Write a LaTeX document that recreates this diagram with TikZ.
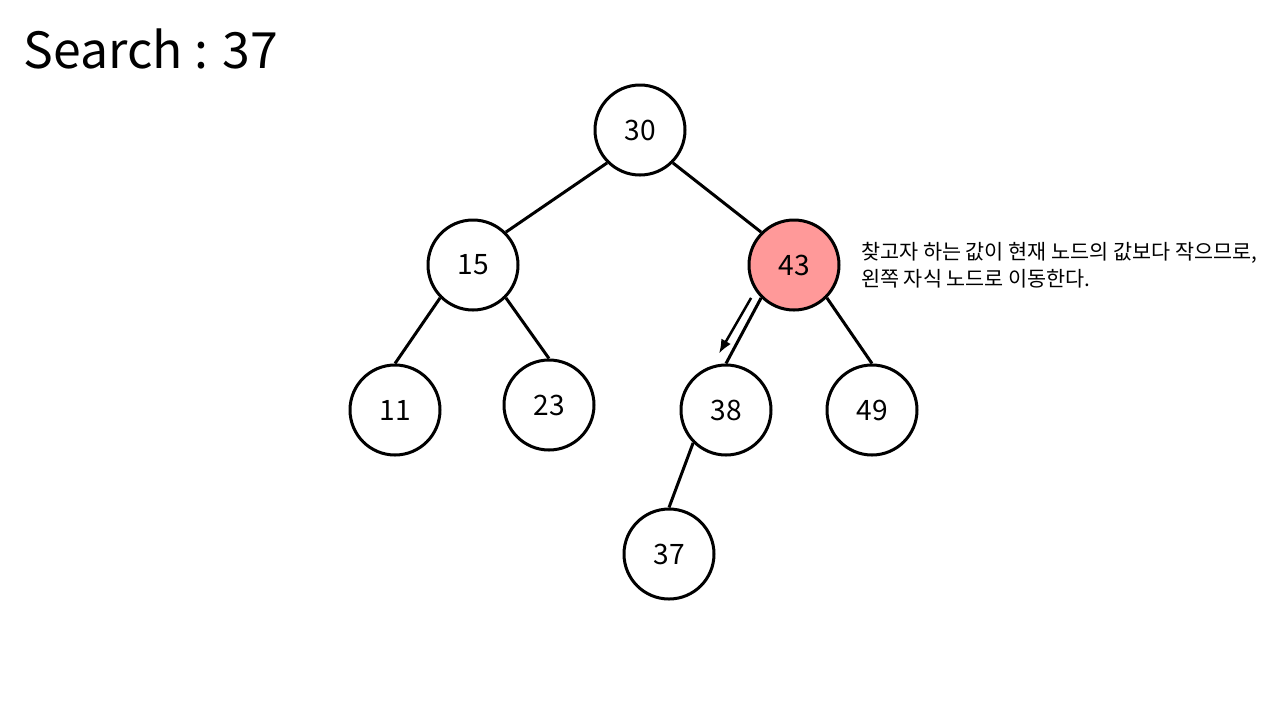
\documentclass[tikz,border=0pt]{standalone}
\usepackage{fontspec}
\setmainfont{Noto Sans CJK KR}
\usetikzlibrary{arrows.meta,positioning,calc}
\definecolor{hitpink}{HTML}{FF9999}
\tikzset{
  key/.style={circle, draw=black, line width=0.3mm, fill=white, minimum size=9mm, inner sep=0pt, font=\fontsize{8}{10}\selectfont},
  current/.style={key, fill=hitpink},
  edge/.style={line width=0.3mm},
  arr/.style={-{Latex[length=1.4mm, width=1.1mm]}, line width=0.25mm},
}
\begin{document}
\begin{tikzpicture}[x=0.1mm, y=-0.1mm]
        \useasboundingbox (0,0) rectangle (1280,720);
        \node[anchor=west, inner sep=0pt, font=\fontsize{14.2}{16}\selectfont] (title) at (23,49) {Search : 37};
        \node[key] (n30) at (640,130) {30};
        \node[key] (n15) at (473,265) {15};
        \node[current] (n43) at (794,265) {43};
        \node[key] (n11) at (395,410) {11};
        \node[key] (n23) at (549,405) {23};
        \node[key] (n38) at (726,410) {38};
        \node[key] (n49) at (872,410) {49};
        \node[key] (n37) at (669,554) {37};
        \draw[edge] (n30.-135) -- (n15.45);
        \draw[edge] (n30.-45) -- (n43.135);
        \draw[edge] (n15.-135) -- (n11.north);
        \draw[edge] (n15.-45) -- (n23.north);
        \draw[edge] (n43.-135) -- (n38.north);
        \draw[edge] (n43.-45) -- (n49.north);
        \draw[edge] (n38.-135) -- (n37.north);
        \coordinate (go1) at ($(n43.-135)+(-10,0)$);
        \coordinate (go2) at ($(n38.north)+(-7,-10)$);
        \draw[arr] (go1) -- (go2);
        \node[anchor=west, align=left, inner sep=0pt, font=\fontsize{5.9}{7.7}\selectfont, right=2mm of n43] (note) {찾고자 하는 값이 현재 노드의 값보다 작으므로,\\왼쪽 자식 노드로 이동한다.};
      \end{tikzpicture}
\end{document}
